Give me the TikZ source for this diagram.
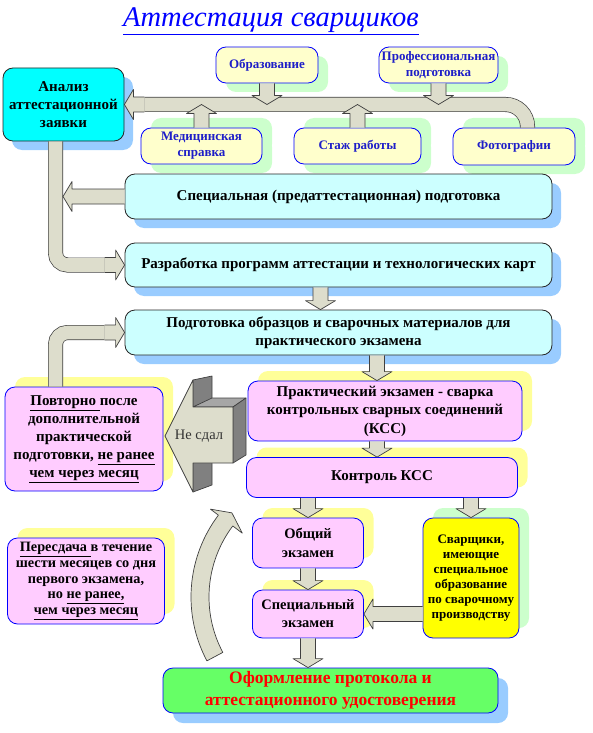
\documentclass[tikz,border=0pt]{standalone}
\usepackage{fontspec}
\setmainfont{Liberation Serif}
\usetikzlibrary{calc,shadows}
\definecolor{analcyan}{RGB}{0,255,255}
\definecolor{lcyan}{RGB}{204,255,255}
\definecolor{sblue}{RGB}{153,204,255}
\definecolor{lyel}{RGB}{255,255,204}
\definecolor{sgreen}{RGB}{204,255,204}
\definecolor{lpink}{RGB}{255,204,255}
\definecolor{syel}{RGB}{255,255,153}
\definecolor{fyel}{RGB}{255,255,0}
\definecolor{fgreen}{RGB}{102,255,102}
\definecolor{arrfill}{RGB}{221,221,204}
\definecolor{arrdark}{RGB}{128,128,128}
\definecolor{arrtop}{RGB}{166,166,166}
\definecolor{bordblue}{RGB}{0,0,255}
\definecolor{txtblue}{RGB}{30,30,200}
\tikzset{
    box/.style={rounded corners=10pt, draw=bordblue, line width=.8pt, align=center, inner sep=1pt,
        font=\bfseries\fontsize{15}{18}\selectfont}, % общий стиль блоков
    cyanbox/.style={box, draw=black!85, fill=lcyan, general shadow={fill=sblue, shadow xshift=9pt, shadow yshift=-9pt}},
    topbox/.style={box, fill=lyel, text=txtblue, font=\bfseries\fontsize{13}{16}\selectfont,
        general shadow={fill=sgreen, shadow xshift=10pt, shadow yshift=-9pt}},
    lowbox/.style={topbox, general shadow={fill=sgreen, shadow xshift=10pt, shadow yshift=10pt}},
    pinkbox/.style={box, fill=lpink, general shadow={fill=syel, shadow xshift=10pt, shadow yshift=10pt}},
    arrline/.style={draw=black!75, line width=.7pt, line join=round},
    band/.style={draw=black!75, line width=.7pt, double=arrfill, double distance=13.6pt}
}
\newcommand{\arrshaft}{7.5pt}
\newcommand{\arrhead}{15pt}
\newcommand{\arrlen}{9pt}
% блочная стрелка от #1 к #2
\newcommand{\blockarrow}[2]{%
    \coordinate (ba-s) at (#1);
    \coordinate (ba-e) at (#2);
    \coordinate (ba-h) at ($(ba-e)!\arrlen!(ba-s)$);
    \fill[arrfill] ($(ba-s)!\arrshaft!90:(ba-e)$) -- ($(ba-h)!\arrshaft!-90:(ba-s)$) -- ($(ba-h)!\arrhead!-90:(ba-s)$) -- (ba-e)
        -- ($(ba-h)!\arrhead!90:(ba-s)$) -- ($(ba-h)!\arrshaft!90:(ba-s)$) -- ($(ba-s)!\arrshaft!-90:(ba-e)$) -- cycle;
    \draw[arrline] ($(ba-s)!\arrshaft!90:(ba-e)$) -- ($(ba-h)!\arrshaft!-90:(ba-s)$) -- ($(ba-h)!\arrhead!-90:(ba-s)$) -- (ba-e)
        -- ($(ba-h)!\arrhead!90:(ba-s)$) -- ($(ba-h)!\arrshaft!90:(ba-s)$) -- ($(ba-s)!\arrshaft!-90:(ba-e)$);
}
\begin{document}
\begin{tikzpicture}[x=1pt, y=1pt]
    \useasboundingbox (0,0) rectangle (593,-733);

    \node[text=bordblue, font=\itshape\fontsize{28.5}{28.5}\selectfont] (title) at (271,-21) {\underline{Аттестация сварщиков}};

    % блоки
    \node[box, draw=black!85, fill=analcyan, minimum width=121pt, minimum height=73pt,
        general shadow={fill=sblue, shadow xshift=9pt, shadow yshift=-9pt}] (anal) at (63.5,-104.5) {Анализ\\аттестационной\\заявки};
    \node[topbox, minimum width=102pt, minimum height=36pt] (obr) at (267,-65) {Образование};
    \node[topbox, minimum width=119pt, minimum height=36pt] (prof) at (438.5,-65) {Профессиональная\\подготовка};
    \node[lowbox, minimum width=121pt, minimum height=36pt] (med) at (201.5,-146) {Медицинская\\справка};
    \node[lowbox, minimum width=127pt, minimum height=36pt] (stazh) at (357.5,-146) {Стаж работы};
    \node[lowbox, minimum width=122pt, minimum height=37pt] (foto) at (514,-146.5) {Фотографии};
    \node[cyanbox, minimum width=427pt, minimum height=45pt] (spec) at (338.5,-196.5) {Специальная (предаттестационная) подготовка};
    \node[cyanbox, minimum width=427pt, minimum height=44pt] (razr) at (338.5,-265) {Разработка программ аттестации и технологических карт};
    \node[cyanbox, minimum width=427pt, minimum height=45pt] (podg) at (338.5,-332.5) {Подготовка образцов и сварочных материалов для\\практического экзамена};
    \node[pinkbox, minimum width=274pt, minimum height=60pt, font=\bfseries\fontsize{15}{18.5}\selectfont] (prakt) at (385,-411) {Практический экзамен - сварка\\контрольных сварных соединений\\(КСС)};
    \node[pinkbox, minimum width=271pt, minimum height=40pt] (kontr) at (382,-477.5) {Контроль КСС};
    \node[pinkbox, minimum width=111pt, minimum height=50pt, font=\bfseries\fontsize{14.5}{19}\selectfont] (obsh) at (308,-543) {Общий\\экзамен};
    \node[pinkbox, minimum width=111pt, minimum height=48pt, font=\bfseries\fontsize{14.5}{18}\selectfont] (specex) at (308,-614) {Специальный\\экзамен};
    \node[box, fill=fyel, minimum width=96pt, minimum height=120pt, font=\bfseries\fontsize{13}{15}\selectfont,
        general shadow={fill=sgreen, shadow xshift=10pt, shadow yshift=10pt}] (svar) at (471,-578) {Сварщики,\\имеющие\\специальное\\образование\\по сварочному\\производству};
    \node[box, fill=fgreen, text=red, minimum width=335pt, minimum height=45pt, font=\bfseries\fontsize{17.5}{22}\selectfont,
        general shadow={fill=sblue, shadow xshift=10pt, shadow yshift=-10pt}] (oform) at (330.5,-690.5) {Оформление протокола и\\аттестационного удостоверения};
    \node[pinkbox, minimum width=158pt, minimum height=104pt] (povt) at (84,-439)
        {\underline{Повторно }после\\дополнительной\\практической\\подготовки, \underline{не ранее}\\\underline{чем через месяц}};
    \node[pinkbox, minimum width=157pt, minimum height=86pt, font=\bfseries\fontsize{14.3}{15.7}\selectfont] (peres) at (86,-581)
        {\underline{Пересдача }в течение\\шести месяцев со дня\\первого экзамена,\\но \underline{не ранее,}\\\underline{чем через месяц}};

    % верхняя полоса
    \coordinate (fotoout) at ([xshift=13.5pt]foto.north);
    \draw[band, rounded corners=22pt] (fotoout) -- (fotoout |- anal.east) -- ([xshift=20pt]anal.east);
    \blockarrow{[xshift=20pt]anal.east}{anal.east}
    \blockarrow{obr.south}{obr.south |- anal.east}
    \blockarrow{prof.south}{prof.south |- anal.east}
    \blockarrow{med.north}{med.north |- anal.east}
    \blockarrow{stazh.north}{stazh.north |- anal.east}

    % левые полосы
    \coordinate (analdn) at ([xshift=-8pt]anal.south);
    \draw[band, rounded corners=12pt] (analdn) -- (analdn |- razr.west) -- ([xshift=-20pt]razr.west);
    \blockarrow{[xshift=-20pt]razr.west}{razr.west}
    \blockarrow{spec.west}{[xshift=7.5pt]analdn |- spec.west}
    \coordinate (povtup) at (analdn |- povt.north);
    \draw[band, rounded corners=12pt] (povtup) -- (povtup |- podg.west) -- ([xshift=-20pt]podg.west);
    \blockarrow{[xshift=-20pt]podg.west}{podg.west}

    % вертикальные стрелки
    \coordinate (rp) at ([xshift=-18pt]podg.north);
    \blockarrow{razr.south -| rp}{rp}
    \coordinate (pp) at ([xshift=-8pt]prakt.north);
    \blockarrow{podg.south -| pp}{pp}
    \blockarrow{prakt.south -| pp}{kontr.north -| pp}
    \blockarrow{kontr.south -| obsh.north}{obsh.north}
    \blockarrow{kontr.south -| svar.north}{svar.north}
    \blockarrow{obsh.south}{specex.north}
    \blockarrow{specex.south}{oform.north -| specex.south}
    \blockarrow{svar.west |- specex.east}{specex.east}

    % объёмная стрелка "Не сдал"
    \filldraw[arrline, fill=arrdark] (193,-380) -- (212,-376) -- (212,-399) -- (193,-407) -- cycle;
    \filldraw[arrline, fill=arrtop] (193,-407) -- (233,-407) -- (246,-398) -- (212,-398) -- cycle;
    \filldraw[arrline, fill=arrdark] (233,-407) -- (246,-398) -- (246,-455) -- (233,-463) -- cycle;
    \filldraw[arrline, fill=arrdark] (193,-463) -- (212,-458) -- (212,-485) -- (193,-492) -- cycle;
    \filldraw[arrline, fill=arrfill] (165,-436) -- (193,-380) -- (193,-407) -- (233,-407) -- (233,-463) -- (193,-463) -- (193,-492) -- cycle;
    \node[text=black!80, font=\fontsize{14.5}{14.5}\selectfont] (nesdal) at (199,-436) {Не сдал};

    % дуговая стрелка
    \coordinate (arcc) at (327,-597);
    \filldraw[arrline, fill=arrfill] ($(arcc)+(208:136)$) arc[start angle=208, end angle=143, radius=136]
        -- ($(arcc)+(143:146)$) -- ($(arcc)+(138.5:127)$) -- ($(arcc)+(143:106)$) -- ($(arcc)+(143:118)$)
        arc[start angle=143, end angle=208, radius=118] -- cycle;
\end{tikzpicture}
\end{document}
